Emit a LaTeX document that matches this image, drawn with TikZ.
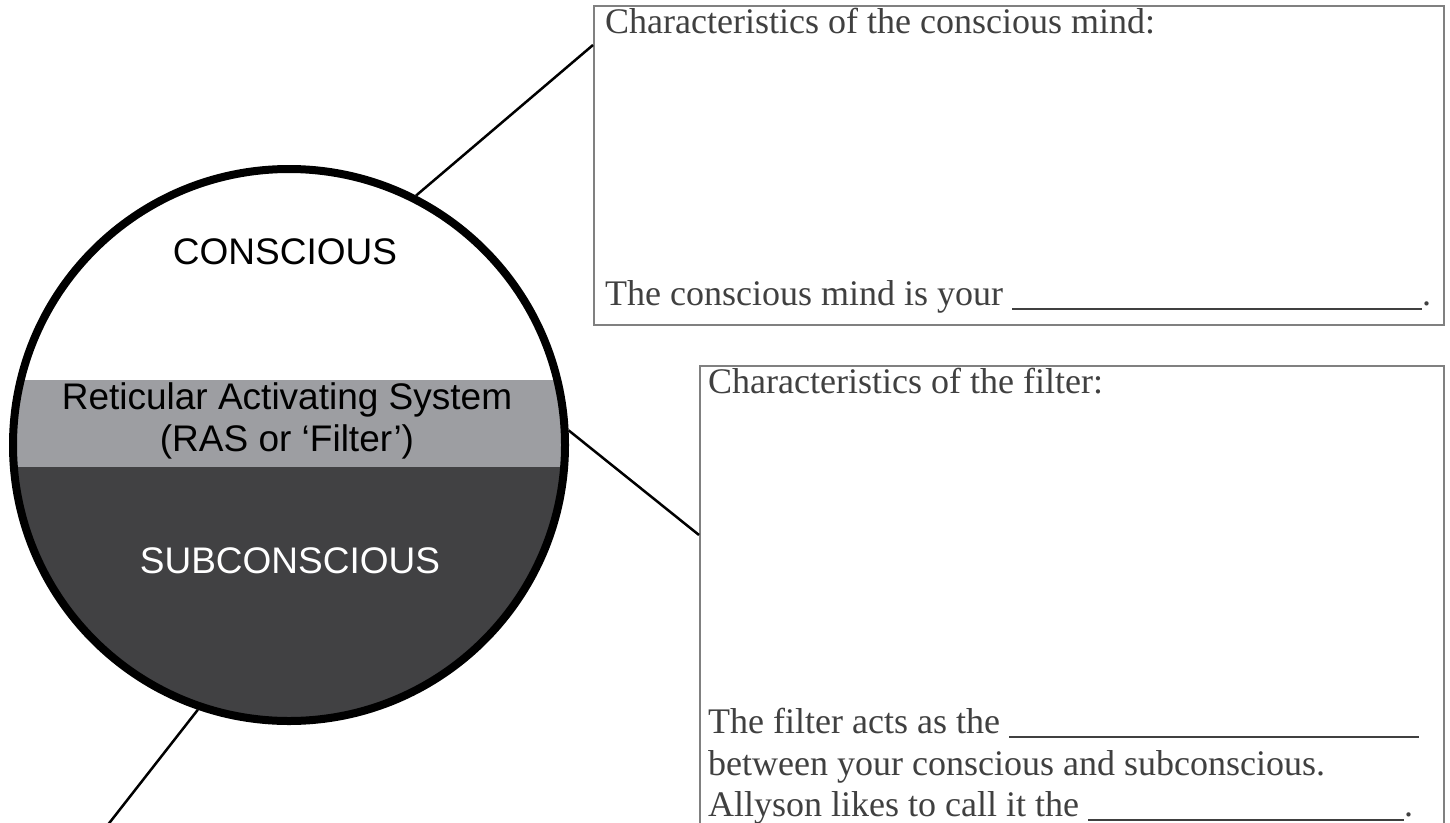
\documentclass[tikz,border=0pt]{standalone}
\usepackage{fontspec}
\setmainfont{Liberation Serif}
\newfontfamily\arialfont{Liberation Sans}
\definecolor{rasgrey}{HTML}{9D9EA2}
\definecolor{subgrey}{HTML}{414143}
\definecolor{inkgrey}{HTML}{404040}
\definecolor{framegrey}{HTML}{808080}

\begin{document}
\begin{tikzpicture}[x=1pt, y=-1pt,
	box/.style={draw=framegrey, line width=1.5pt, anchor=north west, inner sep=0pt},
	txt/.style={anchor=base west, inner sep=0pt, text=inkgrey, font=\fontsize{36}{42}\selectfont},
	lbl/.style={inner sep=0pt, align=center, font=\arialfont\fontsize{37}{42}\selectfont},
	link/.style={line width=2.5pt}]
	\clip (0,0) rectangle (1450,822);
	\fill[white] (0,0) rectangle (1450,822);
	\begin{scope}
	\clip (289,445) circle (276pt);
	\fill[rasgrey] (0,380) rectangle (600,467);
	\fill[subgrey] (0,467) rectangle (600,730);
	\end{scope}
	\node[circle, draw, line width=8pt, minimum size=552pt, inner sep=0pt] (1) at (289,445) {};
	\node[lbl] (4) at (285,252) {CONSCIOUS};
	\node[lbl] (5) at (287,421) {Reticular Activating System\\(RAS or ‘Filter’)};
	\node[lbl, text=white] (6) at (290,561) {SUBCONSCIOUS};
	\node[box, minimum width=850pt, minimum height=319pt] (2) at (593,5) {};
	\node[box, minimum width=744pt, minimum height=500pt] (3) at (699,365) {};
	\node[txt] (7) at (605,33) {Characteristics of the conscious mind:};
	\node[txt] (8) at (605,305) {The conscious mind is your \rule[-5pt]{410pt}{2pt}.};
	\node[txt] (9) at (708,393) {Characteristics of the filter:};
	\node[txt] (10) at (708,733) {The filter acts as the \rule[-5pt]{410pt}{2pt}};
	\node[txt] (11) at (708,775) {between your conscious and subconscious.};
	\node[txt] (12) at (708,816) {Allyson likes to call it the \rule[-5pt]{316pt}{2pt}.};
	\coordinate (13) at (593,45);
	\coordinate (14) at (699,535);
	\coordinate (15) at (96,840);
	\draw[link] (1.63.8) -- (13);
	\draw[link] (1.3.5) -- (14);
	\draw[link] (1.251.2) -- (15);
\end{tikzpicture}
\end{document}
